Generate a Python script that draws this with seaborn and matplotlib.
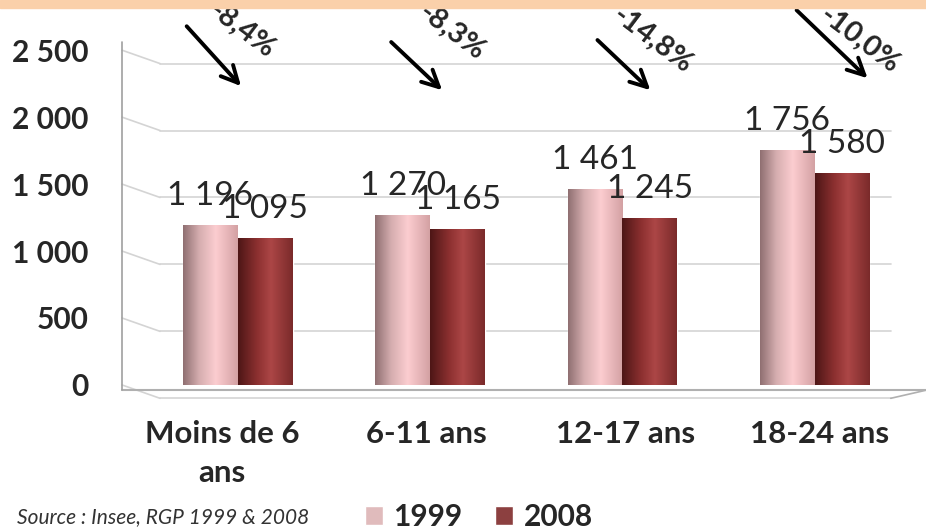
import pandas as pd
import matplotlib.pyplot as plt
import seaborn as sns
import numpy as np
from matplotlib.colors import LinearSegmentedColormap
from matplotlib.patches import Rectangle
from matplotlib.transforms import ScaledTranslation

# data
categories = ['Moins de 6\nans', '6-11 ans', '12-17 ans', '18-24 ans']
years = ['1999', '2008']
values_1999 = [1196, 1270, 1461, 1756]
values_2008 = [1095, 1165, 1245, 1580]

df = pd.DataFrame({'Tranche': categories * 2,
                   'Année': [years[0]] * 4 + [years[1]] * 4,
                   'Effectif': values_1999 + values_2008})

def fr(v):
    return f"{v:,.0f}".replace(',', ' ')

sns.set_style('white')
plt.rcParams['font.family'] = ['Lato', 'DejaVu Sans']

fig = plt.figure(figsize=(9.26, 5.32), dpi=100)
ax = fig.add_axes([0.1317, 0.2387, 0.868, 0.7425])

sns.barplot(data=df, x='Tranche', y='Effectif', hue='Année', hue_order=years,
            palette=['#e6b5b6', '#993333'], width=0.57, errorbar=None, ax=ax)

handles, labels = ax.get_legend_handles_labels()
ax.get_legend().remove()

# cylinder-like shading on each bar
cmaps = [LinearSegmentedColormap.from_list('p', [(0, '#8f6f71'), (0.3, '#d6aeb0'), (0.6, '#fccdd0'), (1, '#d3a1a3')]),
         LinearSegmentedColormap.from_list('d', [(0, '#4d1616'), (0.35, '#8c3030'), (0.6, '#ac4646'), (1, '#7a2a2a')])]
grad = np.linspace(0, 1, 256).reshape(1, -1)
for cont, cmap in zip(ax.containers, cmaps):
    for bar in cont:
        x0, y0 = bar.get_x(), bar.get_y()
        im = ax.imshow(grad, extent=[x0, x0 + bar.get_width(), y0, y0 + bar.get_height()],
                       aspect='auto', cmap=cmap, zorder=bar.get_zorder() + 0.1)
        im.set_clip_path(bar)
    ax.bar_label(cont, labels=[fr(v) for v in cont.datavalues], padding=10, fontsize=24)

ax.set_xlim(-0.603, 3.578)
ax.set_ylim(-150, 2800)
ticks = [0, 500, 1000, 1500, 2000, 2500]
ax.set_yticks(ticks)
ax.set_yticklabels([fr(t) for t in ticks], fontsize=21.5, fontweight='bold')
ax.tick_params(axis='y', length=0, pad=24)
ax.tick_params(axis='x', length=0, pad=11, labelsize=22.5)
for lab, dx in zip(ax.get_xticklabels(), [-16, -4, 3, 5]):
    lab.set_fontweight('bold')
    lab.set_linespacing(1.45)
    lab.set_transform(lab.get_transform() + ScaledTranslation(dx / 100, 0, fig.dpi_scale_trans))
ax.set_xlabel('')
ax.set_ylabel('')
for s in ax.spines.values():
    s.set_visible(False)

# back wall gridlines with side wall
gc = '#d4d4d4'
for t in ticks:
    ax.plot([-0.603, -0.405], [t, t - 100], color=gc, lw=1.2, zorder=0, clip_on=False)
    ax.plot([-0.405, 3.396], [t - 100, t - 100], color=gc, lw=1.2, zorder=0, clip_on=False)
ax.plot([3.396, 3.578], [-100, -40], color='#b0b0b0', lw=1.2, clip_on=False)
ax.plot([-0.603, 3.578], [-40, -40], color='#b0b0b0', lw=1.5, clip_on=False)
ax.plot([-0.603, -0.603], [-40, 2560], color='#a0a0a0', lw=1.2, clip_on=False)

# variation arrows
arrow_start = [(-0.276, 2694), (-0.213, 2575), (-0.14, 2590), (-0.104, 2813)]
arrow_end = [(0.026, 2216), (0.073, 2187), (0.156, 2187), (0.286, 2276)]
pct_pos = [(0.02, 2650), (0.11, 2634), (0.156, 2575), (0.234, 2575)]
for i, (a, b) in enumerate(zip(values_1999, values_2008)):
    pct = (b - a) / a * 100
    s, e, p = arrow_start[i], arrow_end[i], pct_pos[i]
    ax.annotate('', xy=(i + e[0], e[1]), xytext=(i + s[0], s[1]),
                arrowprops=dict(arrowstyle='->', lw=2.8, mutation_scale=30, color='black'),
                annotation_clip=False)
    ax.text(i + p[0], p[1], f"{pct:.1f}%".replace('.', ','), rotation=-37,
            rotation_mode='anchor', ha='center', va='center', fontsize=21,
            fontweight='bold', clip_on=False)

fig.legend(handles, labels, loc='center', bbox_to_anchor=(0.517, 0.028), ncol=2,
           frameon=False, handlelength=0.6, handleheight=0.6, handletextpad=0.35,
           columnspacing=1.1, prop={'size': 21.5, 'weight': 'bold'})
fig.text(17 / 926, 0.028, 'Source : Insee, RGP 1999 & 2008', fontsize=15,
         style='italic', color='#333333', va='center')

fig.add_artist(Rectangle((0, 1 - 8 / 532), 1, 8 / 532, transform=fig.transFigure,
                         color='#fad0aa', zorder=10))

fig.savefig('out.png', dpi=100)
